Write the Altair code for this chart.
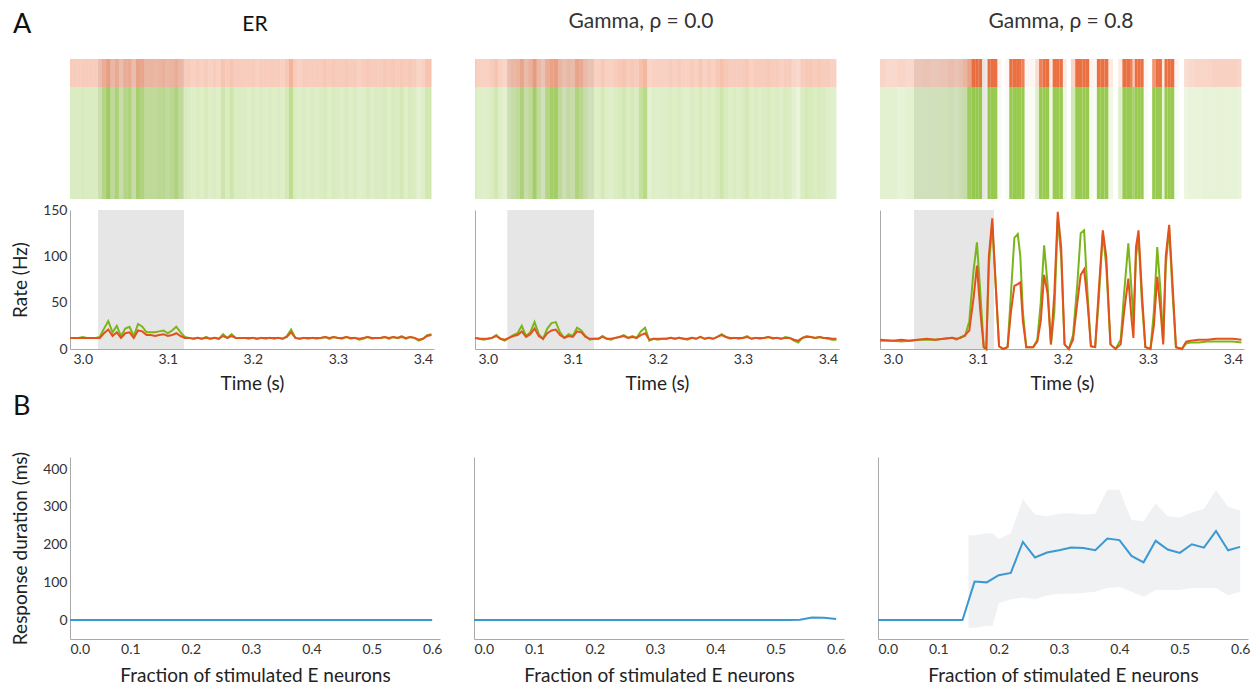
import altair as alt
import numpy as np
import pandas as pd

FONT = "Lato"
GREEN = "#7ab51b"
ORANGE = "#e5511c"
R_GREEN = "#8cc43c"
R_ORANGE = "#e8602c"
BLUE = "#3a98d2"
SHADE = "#e6e6e6"

# ---------------- panel A : firing rates (Hz) ----------------
T_GRID = np.round(np.arange(2.985, 3.4101, 0.005), 3)  # sampling grid (86 samples)

ER_E = [12, 12, 12, 13, 12, 12, 12, 13, 22, 30,
        18, 25, 14, 22, 24, 14, 27, 24, 18, 18,
        18, 19, 20, 17, 20, 24, 18, 13, 12, 11,
        12, 11, 13, 11, 12, 11, 16, 12, 16, 12,
        12, 12, 11, 12, 11, 12, 11, 12, 11, 12,
        11, 14, 21, 12, 11, 12, 11, 12, 11, 12,
        13, 11, 13, 12, 11, 13, 11, 12, 10, 11,
        13, 11, 12, 12, 13, 11, 13, 12, 14, 11,
        13, 12, 9, 11, 15, 16]
ER_I = [12, 12, 12, 12, 12, 12, 12, 12, 17, 21,
        14, 18, 12, 17, 18, 12, 20, 19, 15, 15,
        14, 15, 16, 14, 15, 17, 14, 12, 12, 11,
        12, 11, 12, 11, 12, 11, 14, 12, 14, 12,
        12, 12, 12, 12, 11, 12, 12, 12, 12, 12,
        11, 13, 18, 12, 11, 12, 12, 12, 12, 12,
        13, 12, 13, 12, 12, 13, 12, 12, 11, 12,
        13, 12, 12, 12, 13, 12, 13, 12, 13, 12,
        13, 12, 10, 11, 14, 15]

G0_E = [12, 11, 10, 11, 12, 15, 11, 9, 12, 15,
        17, 25, 14, 18, 29, 16, 11, 22, 28, 29,
        18, 12, 16, 14, 23, 20, 14, 10, 11, 11,
        14, 11, 10, 12, 13, 15, 12, 14, 12, 19,
        23, 9, 11, 10, 11, 11, 12, 11, 12, 11,
        10, 12, 11, 13, 11, 12, 11, 13, 16, 13,
        11, 12, 11, 12, 14, 11, 12, 11, 12, 13,
        11, 12, 11, 13, 12, 9, 7, 12, 14, 13,
        12, 13, 12, 11, 10, 10]
G0_I = [12, 11, 11, 11, 12, 14, 11, 10, 12, 14,
        15, 19, 13, 16, 22, 14, 11, 17, 20, 21,
        15, 12, 14, 13, 19, 18, 13, 11, 11, 11,
        13, 11, 11, 12, 13, 14, 12, 13, 12, 15,
        17, 10, 11, 11, 11, 11, 12, 11, 12, 11,
        11, 12, 11, 13, 11, 12, 11, 13, 15, 13,
        12, 12, 12, 12, 13, 11, 12, 12, 12, 13,
        12, 12, 11, 12, 12, 10, 9, 12, 13, 13,
        12, 13, 12, 12, 11, 11]

G8_T = [2.985, 3.000, 3.010, 3.020, 3.030, 3.040, 3.050, 3.060, 3.070, 3.075,
        3.080, 3.085, 3.090, 3.095, 3.099, 3.103, 3.107, 3.110, 3.113, 3.117,
        3.121, 3.125, 3.130, 3.135, 3.139, 3.143, 3.147, 3.150, 3.153, 3.157,
        3.165, 3.170, 3.174, 3.178, 3.182, 3.186, 3.190, 3.194, 3.198, 3.202,
        3.207, 3.212, 3.217, 3.221, 3.225, 3.229, 3.233, 3.238, 3.242, 3.247,
        3.251, 3.256, 3.262, 3.268, 3.272, 3.277, 3.281, 3.283, 3.286, 3.289,
        3.293, 3.297, 3.303, 3.307, 3.311, 3.315, 3.318, 3.321, 3.325, 3.329,
        3.333, 3.340, 3.345, 3.350, 3.360, 3.370, 3.380, 3.390, 3.400, 3.410]
G8_E = [9, 9, 8, 9, 10, 10, 10, 11, 12, 10,
        13, 14, 30, 85, 115, 60, 2, 0, 90, 135,
        70, 3, 0, 2, 60, 120, 124, 100, 40, 2,
        2, 10, 50, 112, 70, 5, 40, 140, 100, 5,
        0, 15, 70, 125, 128, 60, 3, 2, 50, 125,
        90, 5, 0, 10, 60, 114, 60, 30, 100, 120,
        50, 2, 0, 40, 110, 60, 8, 90, 130, 60,
        2, 0, 6, 7, 7, 8, 8, 8, 8, 7]
G8_I = [10, 9, 10, 9, 10, 11, 10, 11, 12, 11,
        12, 15, 20, 55, 90, 40, 2, 0, 100, 141,
        70, 3, 0, 2, 40, 68, 70, 72, 30, 2,
        2, 8, 30, 80, 60, 5, 60, 148, 110, 5,
        0, 10, 50, 80, 86, 50, 3, 2, 60, 128,
        100, 5, 0, 5, 40, 76, 30, 12, 110, 128,
        60, 2, 0, 25, 78, 40, 5, 100, 134, 70,
        2, 0, 8, 9, 10, 10, 11, 11, 11, 10]

STIM_ER = [3.018, 3.119]
STIM_G0 = [3.023, 3.125]
STIM_G8 = [3.025, 3.119]

TITLES = ["ER", "Gamma, \u03c1 = 0.0", "Gamma, \u03c1 = 0.8"]

# ---------------- panel B : response duration (ms) ----------------
FRAC = np.round(np.arange(0.0, 0.6001, 0.02), 2)  # 31 stimulation fractions
ER_DUR = [0, 0, 0, 0, 0, 0, 0, 0, 0, 0,
          0, 0, 0, 0, 0, 0, 0, 0, 0, 0,
          0, 0, 0, 0, 0, 0, 0, 0, 0, 0, 0]
G0_DUR = [0, 0, 0, 0, 0, 0, 0, 0, 0, 0,
          0, 0, 0, 0, 0, 0, 0, 0, 0, 0,
          0, 0, 0, 0, 0, 0, 0, 1, 7, 6, 3]
G8_DUR = [0, 0, 0, 0, 0, 0, 0, 0, 102, 100,
          119, 125, 207, 166, 179, 185, 192, 191, 185, 216,
          212, 170, 153, 210, 187, 178, 201, 192, 236, 185, 194]
BAND_X = [0.15, 0.16, 0.18, 0.19, 0.20, 0.22, 0.24, 0.26, 0.28, 0.30, 0.32, 0.34, 0.36,
          0.38, 0.40, 0.42, 0.44, 0.46, 0.48, 0.50, 0.52, 0.54, 0.56, 0.58, 0.60]
BAND_HI = [225, 225, 230, 230, 215, 230, 320, 280, 275, 282, 283, 280, 282,
           345, 345, 265, 262, 309, 275, 272, 285, 295, 344, 300, 290]
BAND_LO = [-20, -20, -15, -15, 45, 55, 60, 55, 65, 70, 70, 72, 75,
           85, 88, 75, 62, 80, 80, 80, 85, 85, 85, 66, 75]

T_DOM = [2.985, 3.413]
W_A, H_RAST, H_RATE = 364, 140, 139
W_B, H_B = 370, 182


def time_x(field, show_axis):
    axis = alt.Axis(values=[3.0, 3.1, 3.2, 3.3, 3.4], format=".1f", title="Time (s)") if show_axis else None
    return alt.X(field, type="quantitative", scale=alt.Scale(domain=T_DOM, nice=False, zero=False), axis=axis)


def bin_edges(times):
    t = np.asarray(times, dtype=float)
    mids = (t[:-1] + t[1:]) / 2
    return np.concatenate([[t[0]], mids]), np.concatenate([mids, [t[-1]]])


def label_layer(text, x, y, size, color, align="left"):
    return alt.Chart(pd.DataFrame({"s": [text]})).mark_text(
        font=FONT, fontSize=size, color=color, align=align, baseline="middle").encode(
        x=alt.value(x), y=alt.value(y), text="s:N")


def raster_panel(times, e, i, stim, title, title_dx, title_y, first):
    lo, hi = bin_edges(times)
    rows = []
    for k in range(len(times)):
        rows.append({"t0": lo[k], "t1": hi[k], "pop": "E", "y0": 0.0, "y1": 0.8, "rate": e[k]})
        rows.append({"t0": lo[k], "t1": hi[k], "pop": "I", "y0": 0.8, "y1": 1.0, "rate": i[k]})
    df = pd.DataFrame(rows)
    ys = alt.Scale(domain=[0, 1], nice=False, zero=False)
    shade = alt.Chart(pd.DataFrame({"a": [stim[0]], "b": [stim[1]]})).mark_rect(color="#ebebeb").encode(
        x=time_x("a", False), x2="b", y=alt.Y(datum=0, scale=ys, axis=None), y2=alt.datum(1))
    dots = alt.Chart(df).mark_rect(strokeWidth=0).encode(
        x=time_x("t0", False), x2="t1",
        y=alt.Y("y0:Q", scale=ys, axis=None), y2="y1:Q",
        color=alt.Color("pop:N", scale=alt.Scale(domain=["E", "I"], range=[R_GREEN, R_ORANGE]), legend=None),
        opacity=alt.Opacity("rate:Q", scale=alt.Scale(domain=[0, 34], range=[0.0, 0.9], clamp=True), legend=None),
    )
    layers = [shade, dots,
              label_layer(title, W_A / 2 + title_dx, title_y, 21, "#111" if first else "#333", "center")]
    if first:
        layers.append(label_layer("A", -57, -34, 27, "#111"))
    return alt.layer(*layers).properties(width=W_A, height=H_RAST)


def rate_panel(times, e, i, stim, first):
    df = pd.DataFrame({"t": times, "E": e, "I": i})
    yaxis = alt.Axis(values=[0, 50, 100, 150], title="Rate (Hz)") if first else alt.Axis(labels=False, title=None)
    ys = alt.Scale(domain=[0, 150], nice=False)
    shade = alt.Chart(pd.DataFrame({"a": [stim[0]], "b": [stim[1]]})).mark_rect(color=SHADE).encode(
        x=time_x("a", True), x2="b", y=alt.Y(datum=0, scale=ys, axis=yaxis), y2=alt.datum(150))
    le = alt.Chart(df).mark_line(color=GREEN, strokeWidth=2).encode(
        x=time_x("t", True), y=alt.Y("E:Q", scale=ys, axis=yaxis))
    li = alt.Chart(df).mark_line(color=ORANGE, strokeWidth=2).encode(
        x=time_x("t", True), y=alt.Y("I:Q", scale=ys, axis=yaxis))
    return alt.layer(shade, le, li).properties(width=W_A, height=H_RATE)


def dur_panel(dur, first, band=False):
    xs = alt.Scale(domain=[0, 0.613], nice=False)
    ys = alt.Scale(domain=[-50, 432], nice=False)
    xaxis = alt.Axis(values=[0, 0.1, 0.2, 0.3, 0.4, 0.5, 0.6], format=".1f",
                     title="Fraction of stimulated E neurons", titlePadding=10)
    yaxis = alt.Axis(values=[0, 100, 200, 300, 400], title="Response duration (ms)") if first else alt.Axis(labels=False, title=None)
    df = pd.DataFrame({"f": FRAC, "d": dur})
    line = alt.Chart(df).mark_line(color=BLUE, strokeWidth=2).encode(
        x=alt.X("f:Q", scale=xs, axis=xaxis), y=alt.Y("d:Q", scale=ys, axis=yaxis))
    layers = []
    if band:
        bdf = pd.DataFrame({"f": BAND_X, "lo": BAND_LO, "hi": BAND_HI})
        layers.append(alt.Chart(bdf).mark_area(color="#eff0f2", opacity=0.95).encode(
            x=alt.X("f:Q", scale=xs, axis=xaxis), y=alt.Y("lo:Q", scale=ys, axis=yaxis), y2="hi:Q"))
    layers.append(line)
    if first:
        layers.append(label_layer("B", -57, -50, 27, "#111"))
    return alt.layer(*layers).properties(width=W_B, height=H_B)


rowA = alt.concat(
    raster_panel(T_GRID, ER_E, ER_I, STIM_ER, TITLES[0], 3, -34, True),
    raster_panel(T_GRID, G0_E, G0_I, STIM_G0, TITLES[1], -16, -37, False),
    raster_panel(G8_T, G8_E, G8_I, STIM_G8, TITLES[2], -1, -37, False),
    rate_panel(T_GRID, ER_E, ER_I, STIM_ER, True),
    rate_panel(T_GRID, G0_E, G0_I, STIM_G0, False),
    rate_panel(G8_T, G8_E, G8_I, STIM_G8, False),
    columns=3, spacing={"row": 4, "column": 35},
)

rowB = alt.hconcat(
    dur_panel(ER_DUR, True),
    dur_panel(G0_DUR, False),
    dur_panel(G8_DUR, False, band=True),
    spacing=28,
)

chart = alt.vconcat(rowA, rowB, spacing=0).properties(
    padding={"left": 11, "top": 11, "right": 5, "bottom": 0}, background="white"
).configure_view(strokeWidth=0).configure_axis(
    labelFont=FONT, labelFontSize=14, labelColor="#333", labelPadding=3,
    titleFont=FONT, titleFontSize=19, titleFontWeight="normal", titleColor="#222",
    domainColor="#aaaaaa", domainWidth=1, ticks=False, grid=False, titlePadding=8,
).configure_axisY(titlePadding=12)

chart.save("out.html", embed_options={"renderer": "svg", "actions": False})
